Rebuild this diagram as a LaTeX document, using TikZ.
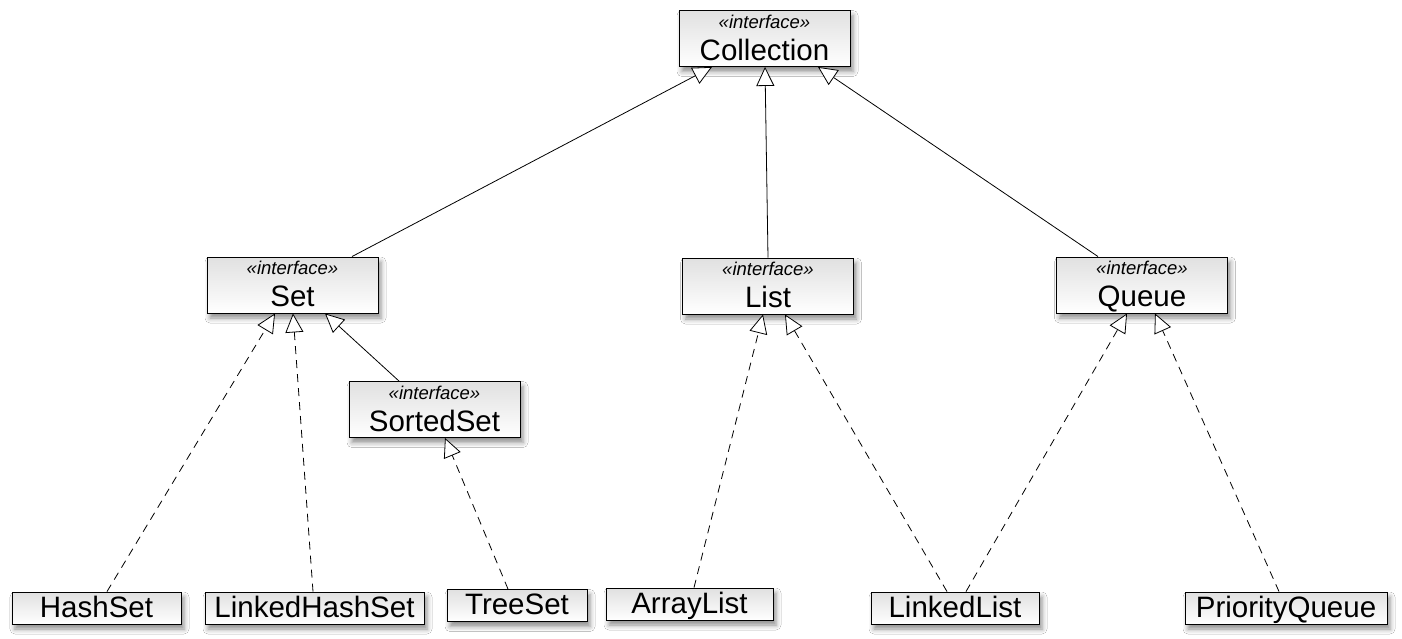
\documentclass[tikz,border=0pt]{standalone}
\usepackage{fontspec}
\setmainfont{Liberation Sans}
\usetikzlibrary{arrows.meta,shadows.blur}
\newcommand{\stereofont}{\fontsize{18.5}{20}\itshape\selectfont}
\newcommand{\namefont}{\fontsize{29.5}{32}\selectfont}
\tikzset{
  box/.style={draw,line width=0.9pt,inner sep=0pt,align=center,font=\namefont,
    top color=white!88!black,bottom color=white,
    blur shadow={shadow xshift=3pt,shadow yshift=-5pt,shadow blur radius=5pt,shadow opacity=45}},
  iface/.style={box,minimum width=171pt,minimum height=56pt,text height=47pt,text depth=3.5pt},
  cls/.style={box,minimum height=32pt,text height=23.5pt,text depth=5pt},
  extends/.style={line width=0.8pt,-{Triangle[length=19pt,width=18pt,fill=white]}},
  realize/.style={extends,dash pattern=on 8pt off 6pt}
}
\begin{document}
\begin{tikzpicture}[x=1pt,y=-1pt]
\useasboundingbox[fill=white] (0,0) rectangle (1402,638);
\node[iface] (coll) at (764.5,38.5) {{\stereofont «interface»}\\Collection};
\node[iface] (set) at (292.5,285) {{\stereofont «interface»}\\Set};
\node[iface] (list) at (768,286) {{\stereofont «interface»}\\List};
\node[iface] (queue) at (1142,285) {{\stereofont «interface»}\\Queue};
\node[iface] (sorted) at (434.5,409.5) {{\stereofont «interface»}\\SortedSet};
\node[cls,minimum width=169pt] (hash) at (96.5,608) {HashSet};
\node[cls,minimum width=219pt] (lhash) at (314.5,608) {LinkedHashSet};
\node[cls,minimum width=140pt] (tree) at (517,605.5) {TreeSet};
\node[cls,minimum width=167pt] (alist) at (689.5,604) {ArrayList};
\node[cls,minimum width=168pt] (llist) at (955,608) {LinkedList};
\node[cls,minimum width=202pt] (pqueue) at (1286,608) {PriorityQueue};
\draw[extends] ([xshift=59.5pt]set.north) -- ([xshift=-52.5pt]coll.south);
\draw[extends] (list.north) -- ([xshift=0.5pt]coll.south);
\draw[extends] ([xshift=-44pt]queue.north) -- ([xshift=53.5pt]coll.south);
\draw[realize] ([xshift=10.5pt]hash.north) -- ([xshift=-17.5pt]set.south);
\draw[realize] ([xshift=-1.5pt]lhash.north) -- ([xshift=0.5pt]set.south);
\draw[extends] ([xshift=-35.5pt]sorted.north) -- ([xshift=32.5pt]set.south);
\draw[realize] ([xshift=-9pt]tree.north) -- ([xshift=10.5pt]sorted.south);
\draw[realize] ([xshift=4.5pt]alist.north) -- ([xshift=-5pt]list.south);
\draw[realize] ([xshift=-8pt]llist.north) -- ([xshift=17pt]list.south);
\draw[realize] ([xshift=11pt]llist.north) -- ([xshift=-15pt]queue.south);
\draw[realize] ([xshift=-7pt]pqueue.north) -- ([xshift=13pt]queue.south);
\end{tikzpicture}
\end{document}
